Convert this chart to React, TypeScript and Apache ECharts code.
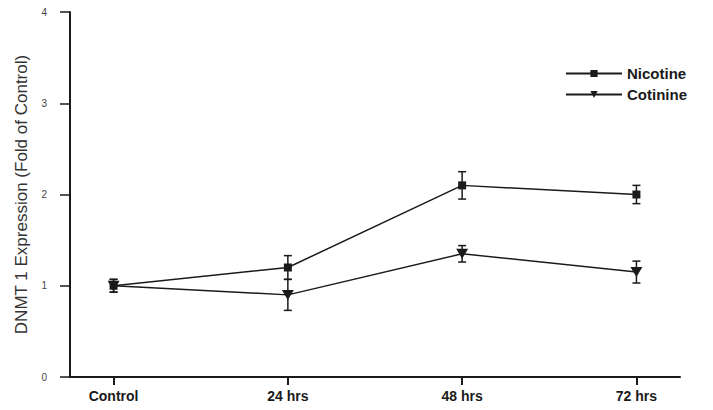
import React, { useEffect, useRef } from "react";
import * as echarts from "echarts";

const categories = ["Control", "24 hrs", "48 hrs", "72 hrs"];
const nicotine = [1.0, 1.2, 2.1, 2.0];
const nicotineErr = [0.07, 0.13, 0.15, 0.1];
const cotinine = [1.0, 0.9, 1.35, 1.15];
const cotinineErr = [0.07, 0.17, 0.09, 0.12];
const yTicks = [0, 1, 2, 3, 4];

const INK = "#1a1a1a";

function errData(vals: number[], errs: number[]) {
  return vals.map((v, i) => [i, v - errs[i], v + errs[i]]);
}

function errorSeries(name: string, vals: number[], errs: number[]) {
  return {
    type: "custom",
    name: name + "-err",
    silent: true,
    z: 1,
    data: errData(vals, errs),
    renderItem: (params: any, api: any) => {
      const x = api.value(0);
      const lo = api.coord([x, api.value(1)]);
      const hi = api.coord([x, api.value(2)]);
      const hw = 4;
      const style = { stroke: INK, lineWidth: 1.5 };
      return {
        type: "group",
        children: [
          { type: "line", shape: { x1: lo[0], y1: lo[1], x2: hi[0], y2: hi[1] }, style },
          { type: "line", shape: { x1: lo[0] - hw, y1: lo[1], x2: lo[0] + hw, y2: lo[1] }, style },
          { type: "line", shape: { x1: hi[0] - hw, y1: hi[1], x2: hi[0] + hw, y2: hi[1] }, style },
        ],
      };
    },
  };
}

export default function App() {
  const ref = useRef<HTMLDivElement>(null);
  useEffect(() => {
    const chart = echarts.init(ref.current!, null, { renderer: "svg" });
    chart.setOption({
      animation: false,
      backgroundColor: "#ffffff",
      grid: { left: 70, right: 33, top: 12, bottom: 33, containLabel: false },
      legend: {
        orient: "vertical",
        left: 560,
        top: 60,
        itemWidth: 56,
        itemHeight: 9,
        itemGap: 4,
        padding: 5,
        data: ["Nicotine", "Cotinine"],
        textStyle: { fontFamily: "Liberation Sans, Arial, sans-serif", fontWeight: "bold", fontSize: 15, color: INK, height: 17, lineHeight: 17 },
      },
      xAxis: {
        type: "value",
        min: -0.25,
        max: 3.25,
        splitLine: { show: false },
        axisLine: { show: true, onZero: false, lineStyle: { color: INK, width: 2 } },
        axisTick: { show: true, length: 8, customValues: [0, 1, 2, 3], lineStyle: { color: INK, width: 2 } },
        axisLabel: {
          customValues: [0, 1, 2, 3],
          formatter: (v: number) => categories[Math.round(v)] ?? "",
          margin: 12,
          fontFamily: "Liberation Sans, Arial, sans-serif",
          fontWeight: "bold",
          fontSize: 14,
          color: INK,
        },
      },
      yAxis: {
        type: "value",
        min: 0,
        max: 4,
        interval: 1,
        name: "DNMT 1 Expression (Fold of Control)",
        nameLocation: "middle",
        nameGap: 40,
        nameTextStyle: { fontFamily: "Liberation Sans, Arial, sans-serif", fontSize: 17, color: "#333" },
        splitLine: { show: false },
        axisLine: { show: true, onZero: false, lineStyle: { color: INK, width: 2 } },
        axisTick: { show: true, length: 10, lineStyle: { color: INK, width: 1.5 } },
        axisLabel: {
          margin: 23,
          fontFamily: "Liberation Sans, Arial, sans-serif",
          fontSize: 10,
          color: "#444",
          formatter: (v: number) => (yTicks.includes(v) ? String(v) : ""),
        },
      },
      series: [
        errorSeries("Nicotine", nicotine, nicotineErr),
        errorSeries("Cotinine", cotinine, cotinineErr),
        {
          name: "Nicotine",
          type: "line",
          z: 3,
          data: nicotine.map((v, i) => [i, v]),
          symbol: "rect",
          symbolSize: 8,
          itemStyle: { color: INK },
          lineStyle: { color: INK, width: 1.5 },
        },
        {
          name: "Cotinine",
          type: "line",
          z: 3,
          data: cotinine.map((v, i) => [i, v]),
          symbol: "triangle",
          symbolRotate: 180,
          symbolSize: [12, 10],
          itemStyle: { color: INK },
          lineStyle: { color: INK, width: 1.5 },
        },
      ],
    });
    return () => chart.dispose();
  }, []);
  return <div ref={ref} style={{ width: 713, height: 410, margin: -8 }} />;
}
